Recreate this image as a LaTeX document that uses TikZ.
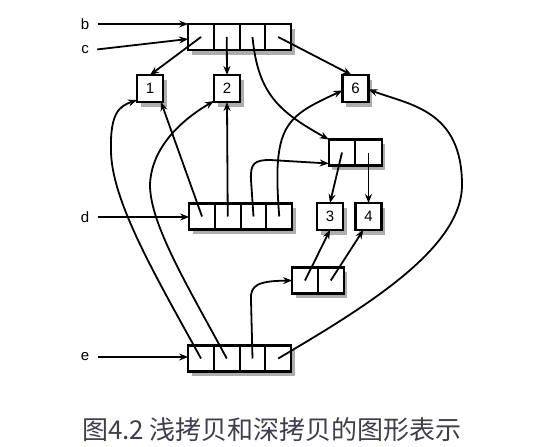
\documentclass[tikz,border=0pt]{standalone}
\usepackage{fontspec}
\setmainfont{Liberation Sans}
\newfontfamily\cjkfont{Noto Sans CJK SC}
\usepackage{tikz}
\usetikzlibrary{arrows.meta, positioning, calc, shadows}
\definecolor{captiongray}{RGB}{62, 62, 78}

\begin{document}
\begin{tikzpicture}[x=1pt, y=-1pt,
  cell/.style={draw, line width=2.2pt, fill=white, minimum width=25.75pt, minimum height=26pt, inner sep=0pt, outer sep=0pt,
    drop shadow={shadow xshift=3.5pt, shadow yshift=-4.5pt, opacity=0.4, fill=black!80}},
  numbox/.style={cell, minimum width=26pt, minimum height=27pt, font=\fontsize{15}{15}\selectfont},
  varlabel/.style={font=\fontsize{15}{15}\selectfont},
  ptr/.style={-{Stealth[length=9pt, width=7pt]}, line width=1.8pt}]

  \useasboundingbox (0,0) rectangle (550,447);

  % Variable names
  \node[varlabel] (lb) at (85,24) {b};
  \node[varlabel] (lc) at (85,50) {c};
  \node[varlabel] (ld) at (85,217) {d};
  \node[varlabel] (le) at (85,357) {e};

  % Top list (b, c)
  \node[cell] (t1) at (201,37) {};
  \node[cell, right=0pt of t1] (t2) {};
  \node[cell, right=0pt of t2] (t3) {};
  \node[cell, right=0pt of t3] (t4) {};

  % Shallow copy d
  \node[cell] (d1) at (202,216.5) {};
  \node[cell, right=0pt of d1] (d2) {};
  \node[cell, right=0pt of d2] (d3) {};
  \node[cell, right=0pt of d3] (d4) {};

  % Deep copy e
  \node[cell] (e1) at (201,358.5) {};
  \node[cell, right=0pt of e1] (e2) {};
  \node[cell, right=0pt of e2] (e3) {};
  \node[cell, right=0pt of e3] (e4) {};

  % Inner lists
  \node[cell, minimum width=26.5pt] (p1) at (342,152.5) {};
  \node[cell, minimum width=26.5pt, right=0pt of p1] (p2) {};
  \node[cell] (q1) at (305,280.5) {};
  \node[cell, right=0pt of q1] (q2) {};

  % Number objects
  \node[numbox] (n1) at (150,88.5) {1};
  \node[numbox] (n2) at (227,88.5) {2};
  \node[numbox] (n6) at (355.5,88.5) {6};
  \node[numbox] (n3) at (330,216.5) {3};
  \node[numbox] (n4) at (368.5,216.5) {4};

  % Names point to lists
  \draw[ptr, shorten <=5pt] (lb.east) -- (lb.east -| t1.west);
  \draw[ptr, shorten <=5pt] (lc.east) -- ($(t1.west)+(0,2)$);
  \draw[ptr, shorten <=5pt] (ld.east) -- (ld.east -| d1.west);
  \draw[ptr, shorten <=5pt] (le.east) -- (le.east -| e1.west);

  % Top list elements
  \draw[ptr] (t1.center) -- (n1.north);
  \draw[ptr] (t2.center) -- (n2.north);
  \draw[ptr] (t3.center) .. controls (258,95) and (280,112) .. (p1.north west);
  \draw[ptr] (t4.center) -- ($(n6.north west)!0.35!(n6.north east)$);

  % Inner list elements
  \draw[ptr] (p1.center) -- (n3.north);
  \draw[ptr] (p2.center) -- (n4.north);
  \draw[ptr] (q1.center) -- (n3.south);
  \draw[ptr] (q2.center) -- ($(n4.south west)!0.3!(n4.south east)$);

  % Shallow copy elements
  \draw[ptr] (d1.center) -- ($(n1.south east)+(-2,0)$);
  \draw[ptr] (d2.center) -- (n2.south);
  \draw[ptr] (d3.center) -- (251,180) .. controls (250,163) and (255,160) .. (270,160) -- ($(p1.south west)+(0,-2)$);
  \draw[ptr] (d4.center) .. controls (272,125) and (285,117) .. ($(n6.west)+(0,2)$);

  % Deep copy elements
  \draw[ptr] (e1.center) .. controls (155,275) and (111,200) .. (111,150)
    .. controls (110,112) and (120,106) .. ($(n1.south west)+(0,-2)$);
  \draw[ptr] (e2.center) .. controls (190,290) and (150,225) .. (150,185)
    .. controls (151,150) and (178,122) .. ($(n2.south west)+(0,-1)$);
  \draw[ptr] (e3.center) -- (251,300) .. controls (250,285) and (258,281) .. (q1.west);
  \draw[ptr] (e4.center) .. controls (360,310) and (462,250) .. (462,185)
    .. controls (462,110) and (410,105) .. ($(n6.east)+(0,1)$);

  % Caption
  \node[font=\cjkfont\fontsize{26}{26}\selectfont, text=captiongray] (caption) at (272,430) {图4.2 浅拷贝和深拷贝的图形表示};
\end{tikzpicture}
\end{document}
